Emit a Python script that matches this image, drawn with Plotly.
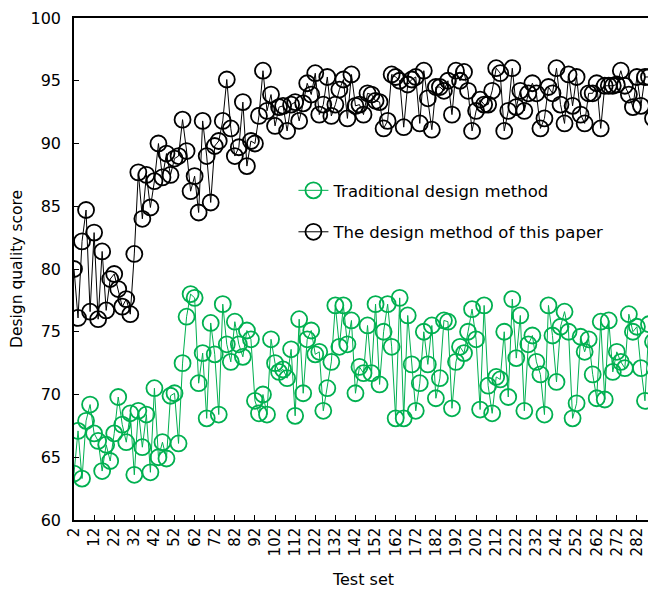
import plotly.graph_objects as go

x_values = list(range(2, 292, 2))

traditional = [
    63.7, 67.1, 63.3, 67.9, 69.2, 66.9, 66.3, 63.9, 66.0, 64.7,
    66.9, 69.8, 67.6, 66.2, 68.5, 63.6, 68.7, 65.8, 68.4, 63.8,
    70.5, 65.0, 66.2, 64.9, 69.9, 70.1, 66.1, 72.5, 76.2, 78.0,
    77.7, 70.9, 73.3, 68.1, 75.7, 73.2, 68.4, 77.2, 74.0, 72.6,
    75.8, 74.0, 73.0, 75.1, 74.4, 69.5, 68.5, 70.0, 68.4, 74.4,
    72.5, 71.8, 72.0, 71.3, 73.6, 68.3, 76.0, 70.1, 74.4, 75.1,
    73.2, 73.4, 68.7, 70.5, 72.6, 77.1, 73.8, 77.1, 74.0, 75.9,
    70.1, 72.2, 71.7, 75.5, 71.7, 77.2, 70.8, 75.0, 77.2, 73.8,
    68.1, 77.7, 68.1, 76.3, 72.4, 68.7, 70.9, 75.0, 72.4, 75.5,
    69.7, 71.3, 75.9, 75.8, 68.9, 72.6, 73.8, 73.3, 75.0, 76.8,
    74.4, 68.8, 77.1, 70.7, 68.5, 71.4, 71.2, 75.0, 69.8, 77.6,
    72.9, 76.3, 68.7, 74.0, 74.7, 72.6, 71.6, 68.4, 77.1, 74.7,
    71.0, 75.4, 76.6, 75.0, 68.1, 69.3, 74.6, 73.4, 74.4, 71.6,
    69.7, 75.8, 69.6, 75.9, 71.8, 73.4, 72.6, 72.1, 76.4, 75.0,
    75.4, 72.1, 69.5, 75.6, 74.2,
]

this_paper = [
    80.0, 76.1, 82.2, 84.7, 76.6, 82.9, 76.0, 81.4, 76.7, 79.2,
    79.6, 78.4, 77.0, 77.6, 76.4, 81.2, 87.7, 84.0, 87.5, 84.9,
    87.0, 90.0, 87.3, 89.2, 87.5, 88.8, 89.0, 91.9, 89.4, 86.2,
    87.4, 84.5, 91.8, 89.0, 85.3, 89.8, 90.2, 91.8, 95.1, 91.2,
    89.0, 89.7, 93.3, 88.2, 90.2, 90.0, 92.2, 95.8, 92.6, 93.9,
    91.4, 92.9, 93.0, 91.0, 93.1, 93.3, 91.8, 93.2, 94.8, 93.9,
    95.6, 92.3, 93.1, 95.3, 92.2, 93.1, 94.3, 95.1, 92.0, 95.5,
    93.0, 93.1, 92.3, 94.0, 93.9, 93.4, 93.3, 91.2, 91.8, 95.5,
    95.3, 95.0, 91.3, 94.7, 95.1, 95.3, 91.6, 95.8, 93.6, 91.1,
    94.5, 94.5, 94.2, 95.0, 92.3, 95.8, 95.0, 95.7, 94.2, 91.0,
    92.6, 93.5, 93.1, 93.1, 94.2, 96.0, 95.6, 91.0, 92.6, 96.0,
    92.9, 94.2, 92.6, 94.0, 94.8, 94.0, 91.2, 92.0, 94.5, 94.0,
    96.0, 93.1, 91.6, 95.5, 93.0, 95.3, 92.3, 91.6, 94.0, 94.0,
    94.8, 91.2, 94.6, 94.6, 94.6, 94.7, 95.8, 94.6, 93.9, 92.9,
    95.3, 93.0, 95.3, 95.3, 92.0,
]

tick_values = list(range(2, 292, 10))
tick_labels = [str(v) for v in tick_values]
y_ticks = [60, 65, 70, 75, 80, 85, 90, 95, 100]

GREEN = "rgb(0,176,80)"

fig = go.Figure()
fig.add_trace(go.Scatter(
    x=x_values, y=traditional, mode="lines+markers",
    name="Traditional design method", legendgroup="a",
    line=dict(color=GREEN, width=1),
    marker=dict(symbol="circle-open", size=16, color=GREEN, line=dict(width=1.8, color=GREEN)),
))
fig.add_trace(go.Scatter(
    x=x_values, y=this_paper, mode="lines+markers",
    name="The design method of this paper", legendgroup="b",
    line=dict(color="black", width=1),
    marker=dict(symbol="circle-open", size=16, color="black", line=dict(width=1.8, color="black")),
))

fig.update_layout(
    width=648, height=584,
    margin=dict(l=66, r=1, t=5, b=72),
    paper_bgcolor="white", plot_bgcolor="white",
    font=dict(family="DejaVu Sans", size=14, color="black"),
    legend=dict(x=0.379, y=0.691, xanchor="left", yanchor="top",
                bgcolor="rgba(0,0,0,0)", tracegroupgap=17,
                font=dict(size=16.5, family="DejaVu Sans")),
    showlegend=True,
)
fig.update_xaxes(
    range=[2, 290], tickvals=tick_values, ticktext=tick_labels, tickangle=-90,
    ticks="inside", ticklen=5, tickcolor="black",
    showline=True, linecolor="black", linewidth=1.5, mirror=True,
    showgrid=False, zeroline=False, ticklabeloverflow="allow",
    title=dict(text="Test set", font=dict(size=16), standoff=18),
    tickfont=dict(size=15),
)
fig.update_yaxes(
    range=[60, 100], tickvals=y_ticks,
    ticks="inside", ticklen=5, tickcolor="black",
    showline=True, linecolor="black", linewidth=1.5, mirror=True,
    showgrid=False, zeroline=False, ticklabelstandoff=8, ticklabeloverflow="allow",
    title=dict(text="Design quality score", font=dict(size=15.5), standoff=10),
    tickfont=dict(size=16),
)

fig.write_html("out.html")
